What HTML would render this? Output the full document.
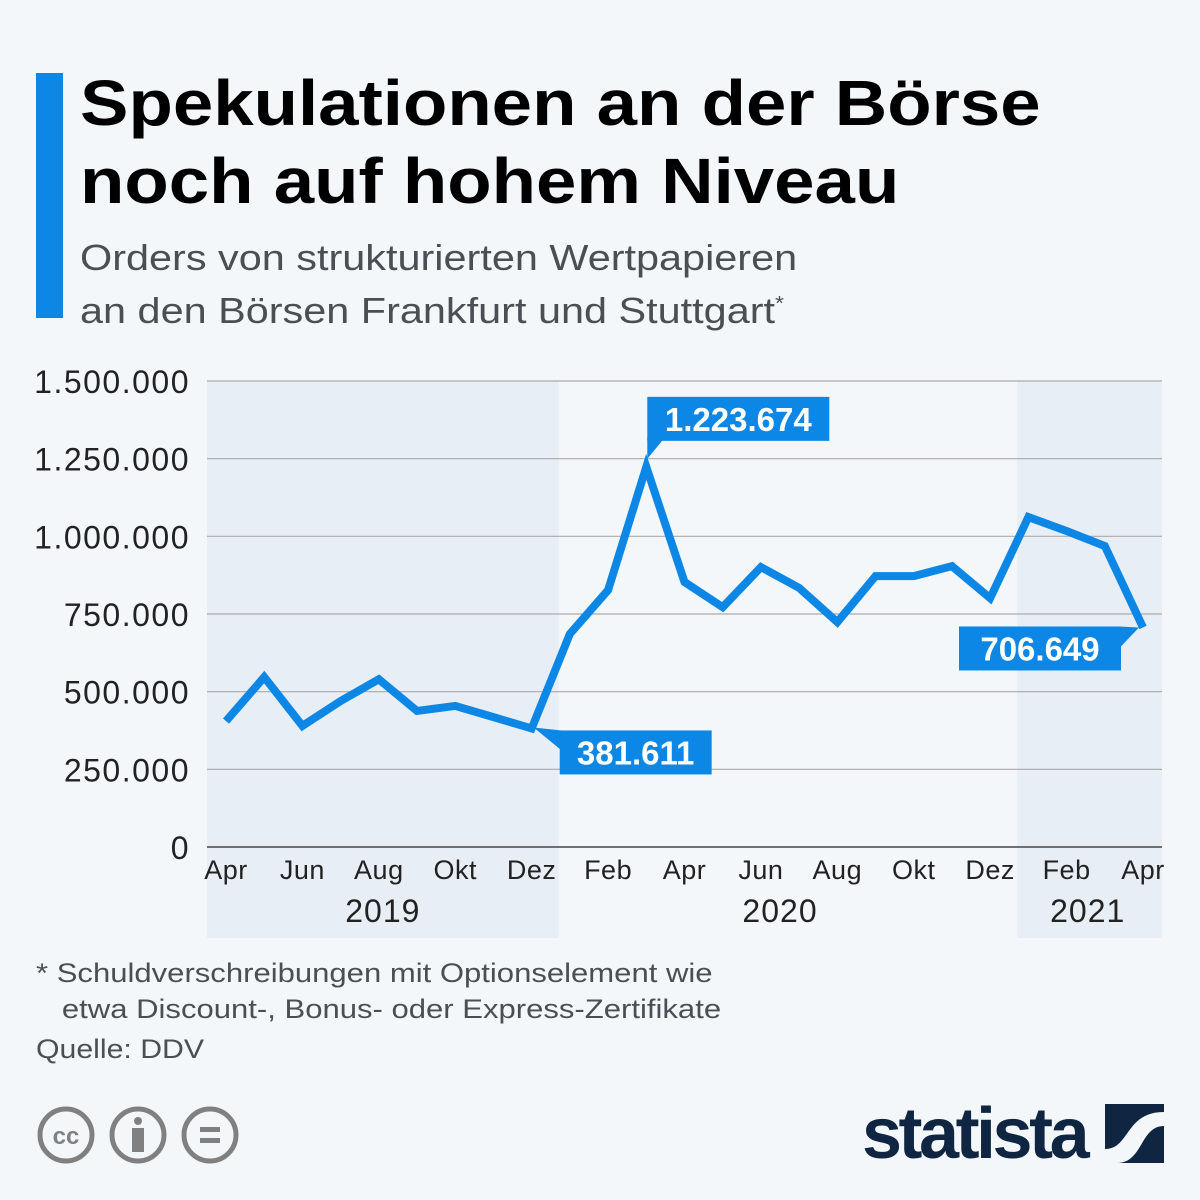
<!DOCTYPE html>
<html><head><meta charset="utf-8"><style>
body{margin:0;background:#f4f7fa;font-family:"Liberation Sans","DejaVu Sans",sans-serif;}
#wrap{position:relative;width:1200px;height:1200px;overflow:hidden;background:#f4f7fa;}
.sx{position:absolute;transform-origin:left top;white-space:nowrap}
</style></head><body>
<div id="wrap">
<div style="position:absolute;left:36px;top:73px;width:27px;height:245px;background:#0d87e6"></div>
<div class="sx" style="left:80px;top:64px;font-size:64px;font-weight:bold;line-height:78px;color:#000;transform:scaleX(1.135)">Spekulationen an der Börse<br>noch auf hohem Niveau</div>
<div class="sx" style="left:80px;top:234px;font-size:36px;line-height:47px;color:#4a4f55;transform:scaleX(1.15)">Orders von strukturierten Wertpapieren<br>an den Börsen Frankfurt und Stuttgart<sup style="font-size:20px">*</sup></div>
<svg id="chart" width="1200" height="1200" style="position:absolute;left:0;top:0"></svg>
<div class="sx" style="left:36px;top:955px;font-size:27px;line-height:36px;color:#4a4f55;transform:scaleX(1.15)">* Schuldverschreibungen mit Optionselement wie<br>&nbsp;&nbsp;&nbsp;etwa Discount-, Bonus- oder Express-Zertifikate</div>
<div class="sx" style="left:36px;top:1034px;font-size:27px;color:#4a4f55;transform:scaleX(1.12)">Quelle: DDV</div>
<svg width="220" height="70" style="position:absolute;left:34px;top:1100px">
<g fill="none" stroke="#808080" stroke-width="5">
<circle cx="32" cy="35" r="26"/><circle cx="104" cy="35" r="26"/><circle cx="176" cy="35" r="26"/></g>
<text x="32" y="44" text-anchor="middle" font-size="24" font-weight="bold" fill="#808080" font-family="Liberation Sans">cc</text>
<circle cx="104" cy="21" r="4" fill="#808080"/><rect x="98" y="28" width="12" height="24" fill="#808080"/>
<rect x="166" y="27" width="20" height="5" fill="#808080"/><rect x="166" y="38" width="20" height="5" fill="#808080"/>
</svg>
<div style="position:absolute;left:862px;top:1093px;font-size:72px;font-weight:bold;color:#0f2541;letter-spacing:-3.5px">statista</div>
<svg width="60" height="60" style="position:absolute;left:1105px;top:1104px"><rect width="59" height="59" fill="#0f2541"/><path d="M0 45 C25 45 20 8 59 8 L59 22 C35 22 38 59 12 59 L0 59 Z" fill="#f4f7fa"/></svg>
</div>
<script>
const months=["Apr","Mai","Jun","Jul","Aug","Sep","Okt","Nov","Dez","Jan","Feb","Mär","Apr","Mai","Jun","Jul","Aug","Sep","Okt","Nov","Dez","Jan","Feb","Mär","Apr"];
const values=[405000,547000,390000,470000,540000,438000,454000,418000,381611,686000,827000,1223674,853000,772000,901000,834000,724000,872000,872000,904000,801000,1062000,1017000,969000,706649];
const yTicks=[0,250000,500000,750000,1000000,1250000,1500000];
const yTickLabels=["0","250.000","500.000","750.000","1.000.000","1.250.000","1.500.000"];
const years=["2019","2020","2021"];
const yearStart=[0,9,21];
const yearEnd=[8,20,24];
const svg=document.getElementById('chart');const NS='http://www.w3.org/2000/svg';
const L=207,R=1162,Y0=847,Y1=381;
const xs=i=>226+i*(1143-226)/(months.length-1);
const ys=v=>Y0-(v/1500000)*(Y0-Y1);
function mk(t,a){const e=document.createElementNS(NS,t);for(const k in a)e.setAttribute(k,a[k]);svg.appendChild(e);return e;}
const step=(1143-226)/(months.length-1);
years.forEach((y,k)=>{if(k===1)return;
 const x0=k===0?L:xs(yearStart[k])-step/2+8;const x1=k===2?R:xs(yearEnd[k])+step/2+8;
 const r=mk('rect',{x:x0,y:Y1,width:x1-x0,height:938-Y1,fill:'#e8eef6'});
 
 });
yTicks.forEach((v,i)=>{const l=mk('line',{x1:L,x2:R,y1:ys(v),y2:ys(v),stroke:v===0?'#444':'#aaa','stroke-width':v===0?1.5:1.2});
 
 
 const t=mk('text',{x:190,y:ys(v)+12,'text-anchor':'end','font-size':32,'letter-spacing':1.5,fill:'#222','font-family':'Liberation Sans'});t.textContent=yTickLabels[i];
 
 });
months.forEach((m,i)=>{if(i%2)return;const t=mk('text',{x:xs(i),y:879,'text-anchor':'middle','font-size':27,'letter-spacing':0.5,fill:'#222','font-family':'Liberation Sans'});t.textContent=m;
 
 });
years.forEach((y,k)=>{const t=mk('text',{x:(xs(yearStart[k])+xs(yearEnd[k]))/2+(k===0?4:k===2?2:0),y:922,'text-anchor':'middle','font-size':32,'letter-spacing':1,fill:'#222','font-family':'Liberation Sans'});t.textContent=y;
 
 });
const p=mk('polyline',{points:values.map((v,i)=>xs(i)+','+ys(v)).join(' '),fill:'none',stroke:'#0d87e6','stroke-width':8,'stroke-linejoin':'miter','stroke-linecap':'butt'});


function fmt(v){return String(v).replace(/\B(?=(\d{3})+(?!\d))/g,'.');}
function callout(i,dx,dy,w,name,tail){const x=xs(i),y=ys(values[i]);const bx=x+dx,by=y+dy;
 const g=document.createElementNS(NS,'g');svg.appendChild(g);
 
 
 const r=document.createElementNS(NS,'rect');r.setAttribute('x',bx);r.setAttribute('y',by);r.setAttribute('width',w);r.setAttribute('height',44);r.setAttribute('fill','#0d87e6');g.appendChild(r);
 const pt=document.createElementNS(NS,'path');pt.setAttribute('d',tail(x,y,bx,by,w));pt.setAttribute('fill','#0d87e6');g.appendChild(pt);
 const t=document.createElementNS(NS,'text');t.setAttribute('x',bx+w/2);t.setAttribute('y',by+34);t.setAttribute('text-anchor','middle');t.setAttribute('font-size',33);t.setAttribute('font-weight','bold');t.setAttribute('fill','#fff');t.setAttribute('font-family','Liberation Sans');t.textContent=fmt(values[i]);g.appendChild(t);}
callout(11,1,-70,182,'peak-callout',(x,y,bx,by)=>`M${bx} ${by+40} L${bx} ${y-8} L${bx+18} ${by+40} Z`);
callout(8,28,2,152,'low-callout',(x,y,bx,by)=>`M${x+2} ${y-1} L${bx+2} ${by} L${bx+2} ${by+20} Z`);
callout(24,-184,-1,162,'last-callout',(x,y,bx,by,w)=>`M${bx+w-2} ${by} L${x-4} ${y} L${bx+w-2} ${by+22} Z`);
</script>
</body></html>
